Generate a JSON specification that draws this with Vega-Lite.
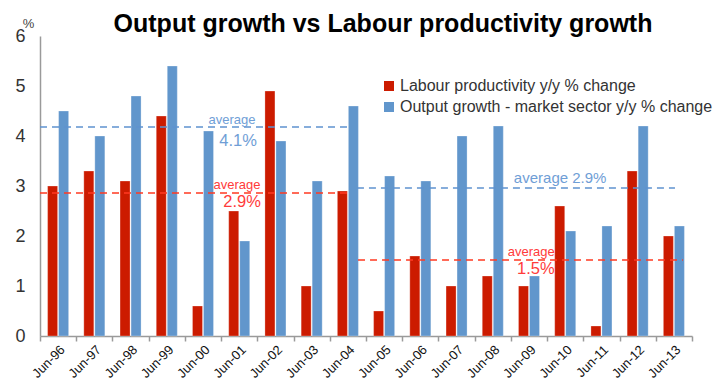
{
  "$schema": "https://vega.github.io/schema/vega-lite/v6.json",
  "width": 652,
  "height": 300,
  "autosize": {"type": "none"},
  "padding": {"left": 40, "top": 36, "right": 32, "bottom": 54},
  "background": "white",
  "title": {
    "text": "Output growth vs Labour productivity growth",
    "font": "Liberation Sans",
    "fontSize": 25,
    "fontWeight": "bold",
    "color": "#000000",
    "anchor": "middle",
    "frame": "group",
    "baseline": "alphabetic",
    "offset": -40,
    "dx": 17
  },
  "datasets": {
    "bars": [
      {"cat": "Jun-96", "series": "Labour productivity y/y % change", "value": 3.0},
      {"cat": "Jun-96", "series": "Output growth - market sector y/y % change", "value": 4.5},
      {"cat": "Jun-97", "series": "Labour productivity y/y % change", "value": 3.3},
      {"cat": "Jun-97", "series": "Output growth - market sector y/y % change", "value": 4.0},
      {"cat": "Jun-98", "series": "Labour productivity y/y % change", "value": 3.1},
      {"cat": "Jun-98", "series": "Output growth - market sector y/y % change", "value": 4.8},
      {"cat": "Jun-99", "series": "Labour productivity y/y % change", "value": 4.4},
      {"cat": "Jun-99", "series": "Output growth - market sector y/y % change", "value": 5.4},
      {"cat": "Jun-00", "series": "Labour productivity y/y % change", "value": 0.6},
      {"cat": "Jun-00", "series": "Output growth - market sector y/y % change", "value": 4.1},
      {"cat": "Jun-01", "series": "Labour productivity y/y % change", "value": 2.5},
      {"cat": "Jun-01", "series": "Output growth - market sector y/y % change", "value": 1.9},
      {"cat": "Jun-02", "series": "Labour productivity y/y % change", "value": 4.9},
      {"cat": "Jun-02", "series": "Output growth - market sector y/y % change", "value": 3.9},
      {"cat": "Jun-03", "series": "Labour productivity y/y % change", "value": 1.0},
      {"cat": "Jun-03", "series": "Output growth - market sector y/y % change", "value": 3.1},
      {"cat": "Jun-04", "series": "Labour productivity y/y % change", "value": 2.9},
      {"cat": "Jun-04", "series": "Output growth - market sector y/y % change", "value": 4.6},
      {"cat": "Jun-05", "series": "Labour productivity y/y % change", "value": 0.5},
      {"cat": "Jun-05", "series": "Output growth - market sector y/y % change", "value": 3.2},
      {"cat": "Jun-06", "series": "Labour productivity y/y % change", "value": 1.6},
      {"cat": "Jun-06", "series": "Output growth - market sector y/y % change", "value": 3.1},
      {"cat": "Jun-07", "series": "Labour productivity y/y % change", "value": 1.0},
      {"cat": "Jun-07", "series": "Output growth - market sector y/y % change", "value": 4.0},
      {"cat": "Jun-08", "series": "Labour productivity y/y % change", "value": 1.2},
      {"cat": "Jun-08", "series": "Output growth - market sector y/y % change", "value": 4.2},
      {"cat": "Jun-09", "series": "Labour productivity y/y % change", "value": 1.0},
      {"cat": "Jun-09", "series": "Output growth - market sector y/y % change", "value": 1.2},
      {"cat": "Jun-10", "series": "Labour productivity y/y % change", "value": 2.6},
      {"cat": "Jun-10", "series": "Output growth - market sector y/y % change", "value": 2.1},
      {"cat": "Jun-11", "series": "Labour productivity y/y % change", "value": 0.2},
      {"cat": "Jun-11", "series": "Output growth - market sector y/y % change", "value": 2.2},
      {"cat": "Jun-12", "series": "Labour productivity y/y % change", "value": 3.3},
      {"cat": "Jun-12", "series": "Output growth - market sector y/y % change", "value": 4.2},
      {"cat": "Jun-13", "series": "Labour productivity y/y % change", "value": 2.0},
      {"cat": "Jun-13", "series": "Output growth - market sector y/y % change", "value": 2.2}
    ],
    "averages": [
      {"series": "Output", "start": 0, "end": 8.5, "avg": 4.18},
      {"series": "Labour", "start": 0, "end": 8.5, "avg": 2.86},
      {"series": "Output", "start": 8.75, "end": 17.53, "avg": 2.96},
      {"series": "Labour", "start": 8.78, "end": 17.75, "avg": 1.52}
    ],
    "notes": [
      {"series": "Output", "kind": "word", "label": "average", "pos": 5.3, "level": 4.32},
      {"series": "Output", "kind": "value", "label": "4.1%", "pos": 5.47, "level": 3.9},
      {"series": "Labour", "kind": "word", "label": "average", "pos": 5.44, "level": 3.02},
      {"series": "Labour", "kind": "value", "label": "2.9%", "pos": 5.58, "level": 2.68},
      {"series": "Output", "kind": "line", "label": "average 2.9%", "pos": 14.36, "level": 3.17},
      {"series": "Labour", "kind": "word", "label": "average", "pos": 13.56, "level": 1.69},
      {"series": "Labour", "kind": "value", "label": "1.5%", "pos": 13.69, "level": 1.34}
    ]
  },
  "layer": [
    {
      "data": {"name": "bars"},
      "mark": {"type": "bar", "stroke": "#ffffff", "strokeOpacity": 0.35, "strokeWidth": 0.8},
      "encoding": {
        "x": {
          "field": "cat",
          "type": "nominal",
          "sort": null,
          "scale": {"paddingInner": 0, "paddingOuter": 0},
          "axis": {
            "title": null,
            "labelAngle": -45,
            "labelFontSize": 13,
            "labelFont": "Liberation Sans",
            "labelColor": "#111111",
            "labelPadding": 2,
            "tickBand": "extent",
            "ticks": true,
            "tickSize": 5,
            "tickColor": "#9a9a9a",
            "tickWidth": 1.5,
            "domainColor": "#9a9a9a",
            "domainWidth": 1.5,
            "grid": false
          }
        },
        "xOffset": {
          "field": "series",
          "type": "nominal",
          "scale": {
            "domain": ["Labour productivity y/y % change", "Output growth - market sector y/y % change"],
            "paddingInner": 0.09,
            "paddingOuter": 0.69
          }
        },
        "y": {
          "field": "value",
          "type": "quantitative",
          "scale": {"domain": [0, 6], "nice": false},
          "axis": {
            "title": "%",
            "titleAngle": 0,
            "titleX": -12,
            "titleY": -13,
            "titleAlign": "center",
            "titleBaseline": "middle",
            "titleFontSize": 13,
            "titleFontWeight": "normal",
            "titleFont": "Liberation Sans",
            "titleColor": "#444444",
            "values": [0, 1, 2, 3, 4, 5, 6],
            "ticks": false,
            "labelPadding": 15,
            "labelFontSize": 18,
            "labelFont": "Liberation Sans",
            "labelColor": "#333333",
            "domainColor": "#9a9a9a",
            "domainWidth": 1.5,
            "grid": false
          }
        },
        "color": {
          "field": "series",
          "type": "nominal",
          "scale": {
            "domain": ["Labour productivity y/y % change", "Output growth - market sector y/y % change"],
            "range": ["#cc1b00", "#6196cc"]
          },
          "legend": {
            "title": null,
            "orient": "none",
            "legendX": 341,
            "legendY": 42,
            "padding": 0,
            "symbolType": "square",
            "symbolSize": 100,
            "symbolStrokeWidth": 0,
            "labelFontSize": 16,
            "labelFont": "Liberation Sans",
            "labelColor": "#333333",
            "labelOffset": 3,
            "rowPadding": 5,
            "labelLimit": 400
          }
        }
      }
    },
    {
      "data": {"name": "averages"},
      "mark": {"type": "rule", "strokeDash": [7, 5], "strokeWidth": 1.5},
      "encoding": {
        "x": {"field": "start", "type": "quantitative", "scale": {"domain": [0, 18], "nice": false, "zero": false}, "axis": null},
        "x2": {"field": "end"},
        "y": {"field": "avg", "type": "quantitative"},
        "color": {
          "condition": {"test": "datum.series === 'Labour'", "value": "#ff3a22"},
          "value": "#5f92cf"
        }
      }
    },
    {
      "data": {"name": "notes"},
      "mark": {"type": "text", "align": "center", "baseline": "middle", "font": "Liberation Sans"},
      "encoding": {
        "x": {"field": "pos", "type": "quantitative", "scale": {"domain": [0, 18], "nice": false, "zero": false}, "axis": null},
        "y": {"field": "level", "type": "quantitative"},
        "text": {"field": "label"},
        "size": {
          "condition": [
            {"test": "datum.kind === 'word'", "value": 13},
            {"test": "datum.kind === 'line'", "value": 15}
          ],
          "value": 16.5
        },
        "color": {
          "condition": {"test": "datum.series === 'Labour'", "value": "#ff3b3b"},
          "value": "#6f9ed6"
        }
      }
    }
  ],
  "resolve": {"scale": {"x": "independent"}},
  "config": {
    "view": {"stroke": null}
  }
}
